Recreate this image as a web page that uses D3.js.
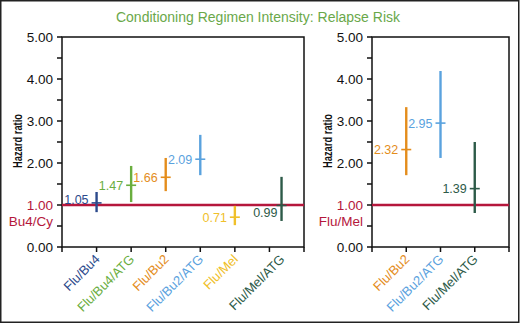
<!DOCTYPE html>
<html>
<head>
<meta charset="utf-8">
<script src="https://cdn.jsdelivr.net/npm/d3@7"></script>
<style>
  body { margin: 0; background: #fff; }
  svg { display: block; }
  text { font-family: "Liberation Sans", Arial, sans-serif; }
</style>
</head>
<body>
<svg width="520" height="324"></svg>
<script>
(function () {

	// left panel (reference Bu4/Cy)
	var leftCats = ["Flu/Bu4", "Flu/Bu4/ATG", "Flu/Bu2", "Flu/Bu2/ATG", "Flu/Mel", "Flu/Mel/ATG"];
	var leftSlot = [1, 2, 3, 4, 5, 6.35];
	var leftHR = [1.05, 1.47, 1.66, 2.09, 0.71, 0.99];
	var leftLow = [0.83, 1.07, 1.33, 1.71, 0.52, 0.62];
	var leftHigh = [1.31, 1.93, 2.12, 2.67, 0.98, 1.67];

	// right panel (reference Flu/Mel)
	var rightCats = ["Flu/Bu2", "Flu/Bu2/ATG", "Flu/Mel/ATG"];
	var rightSlot = [1, 2, 3];
	var rightHR = [2.32, 2.95, 1.39];
	var rightLow = [1.71, 2.12, 0.81];
	var rightHigh = [3.33, 4.19, 2.5];

	var yTicks = [0, 1, 2, 3, 4, 5];

	var colors = {
		"Flu/Bu4": "#2c4a8c",
		"Flu/Bu4/ATG": "#6aae3e",
		"Flu/Bu2": "#e48d1c",
		"Flu/Bu2/ATG": "#5aa2de",
		"Flu/Mel": "#f0c02a",
		"Flu/Mel/ATG": "#2d5a48"
	};
	var refColor = "#b5173c";

	var svg = d3.select("svg");

	// outer frame
	svg.append("rect")
		.attr("x", 0.75).attr("y", 0.75)
		.attr("width", 518).attr("height", 321.5)
		.attr("fill", "none")
		.attr("stroke", "#222")
		.attr("stroke-width", 1.5);

	svg.append("text")
		.attr("x", 258).attr("y", 22)
		.attr("text-anchor", "middle")
		.attr("fill", "#6aa84a")
		.style("font-size", "14px")
		.text("Conditioning Regimen Intensity: Relapse Risk");

	function panel(opts) {
		var g = svg.append("g");
		var x = d3.scaleLinear().domain([0, opts.n]).range([opts.x0, opts.x1]);
		var y = d3.scaleLinear().domain([0, 5]).range([247, 37]);

		// frame
		g.append("rect")
			.attr("x", opts.x0).attr("y", y(5))
			.attr("width", opts.x1 - opts.x0).attr("height", y(0) - y(5))
			.attr("fill", "none")
			.attr("stroke", "#111")
			.attr("stroke-width", 1.5);

		// y axis ticks
		g.selectAll("line.ytick")
			.data(d3.range(0, 5.01, 0.5))
			.enter().append("line")
			.attr("x1", opts.x0 - 5).attr("x2", opts.x0)
			.attr("y1", function (d) { return y(d); })
			.attr("y2", function (d) { return y(d); })
			.attr("stroke", "#111").attr("stroke-width", 1.5);

		g.selectAll("text.ylab")
			.data(yTicks)
			.enter().append("text")
			.attr("x", opts.x0 - 9)
			.attr("y", function (d) { return y(d) + 4.5; })
			.attr("text-anchor", "end")
			.attr("fill", function (d) { return d === 1 ? refColor : "#111"; })
			.style("font-size", "13.5px")
			.text(function (d) { return d.toFixed(2); });

		g.append("text")
			.attr("x", opts.x0 - 9)
			.attr("y", y(1) + 21)
			.attr("text-anchor", "end")
			.attr("fill", refColor)
			.style("font-size", "13.5px")
			.text(opts.ref);

		g.append("text")
			.attr("transform", "translate(" + (opts.x0 - 40) + "," + 141 + ") rotate(-90)")
			.attr("text-anchor", "middle")
			.attr("fill", "#111")
			.attr("textLength", 54)
			.attr("lengthAdjust", "spacingAndGlyphs")
			.style("font-weight", "bold")
			.style("font-size", "13px")
			.text("Hazard ratio");

		// x ticks
		g.selectAll("line.xtick")
			.data(d3.range(0, opts.n + 1))
			.enter().append("line")
			.attr("x1", function (d) { return x(d); })
			.attr("x2", function (d) { return x(d); })
			.attr("y1", y(0)).attr("y2", y(0) + 5)
			.attr("stroke", "#111").attr("stroke-width", 1.5);

		g.selectAll("text.xlab")
			.data(opts.cats)
			.enter().append("text")
			.attr("transform", function (d, i) {
				return "translate(" + (x(opts.slot[i]) + 4) + "," + (y(0) + 13) + ") rotate(-45)";
			})
			.attr("text-anchor", "end")
			.attr("fill", function (d) { return colors[d]; })
			.style("font-size", "13px")
			.text(function (d) { return d; });

		// reference line
		g.append("line")
			.attr("x1", opts.x0).attr("x2", opts.x1)
			.attr("y1", y(1)).attr("y2", y(1))
			.attr("stroke", refColor).attr("stroke-width", 2.5);

		var pts = opts.cats.map(function (c, i) {
			return { cat: c, slot: opts.slot[i], hr: opts.hr[i], lo: opts.lo[i], hi: opts.hi[i] };
		});

		var m = g.selectAll("g.pt").data(pts).enter().append("g");

		m.append("line")
			.attr("x1", function (d) { return x(d.slot); })
			.attr("x2", function (d) { return x(d.slot); })
			.attr("y1", function (d) { return y(d.lo); })
			.attr("y2", function (d) { return y(d.hi); })
			.attr("stroke", function (d) { return colors[d.cat]; })
			.attr("stroke-width", 2.4);

		m.append("line")
			.attr("x1", function (d) { return x(d.slot) - 5; })
			.attr("x2", function (d) { return x(d.slot) + 5; })
			.attr("y1", function (d) { return y(d.hr); })
			.attr("y2", function (d) { return y(d.hr); })
			.attr("stroke", function (d) { return colors[d.cat]; })
			.attr("stroke-width", 1.6);

		// labels that would sit on the reference line are pushed off it
		function nearBelow(d) { return d.hr < 1 && d.hr > 0.9; }
		function nearAbove(d) { return d.hr >= 1 && d.hr < 1.1; }
		m.append("text")
			.attr("x", function (d) { return x(d.slot) - (nearBelow(d) ? 4 : 8); })
			.attr("y", function (d) {
				return y(d.hr) + (nearBelow(d) ? 12 : nearAbove(d) ? 1 : 4.5);
			})
			.attr("text-anchor", "end")
			.attr("fill", function (d) { return colors[d.cat]; })
			.style("font-size", "12.5px")
			.text(function (d) { return d.hr.toFixed(2); });
	}

	panel({ cats: leftCats, slot: leftSlot, hr: leftHR, lo: leftLow, hi: leftHigh,
		n: 7, x0: 62, x1: 304, ref: "Bu4/Cy" });
	panel({ cats: rightCats, slot: rightSlot, hr: rightHR, lo: rightLow, hi: rightHigh,
		n: 4, x0: 372, x1: 509, ref: "Flu/Mel" });

})();
</script>
</body>
</html>
